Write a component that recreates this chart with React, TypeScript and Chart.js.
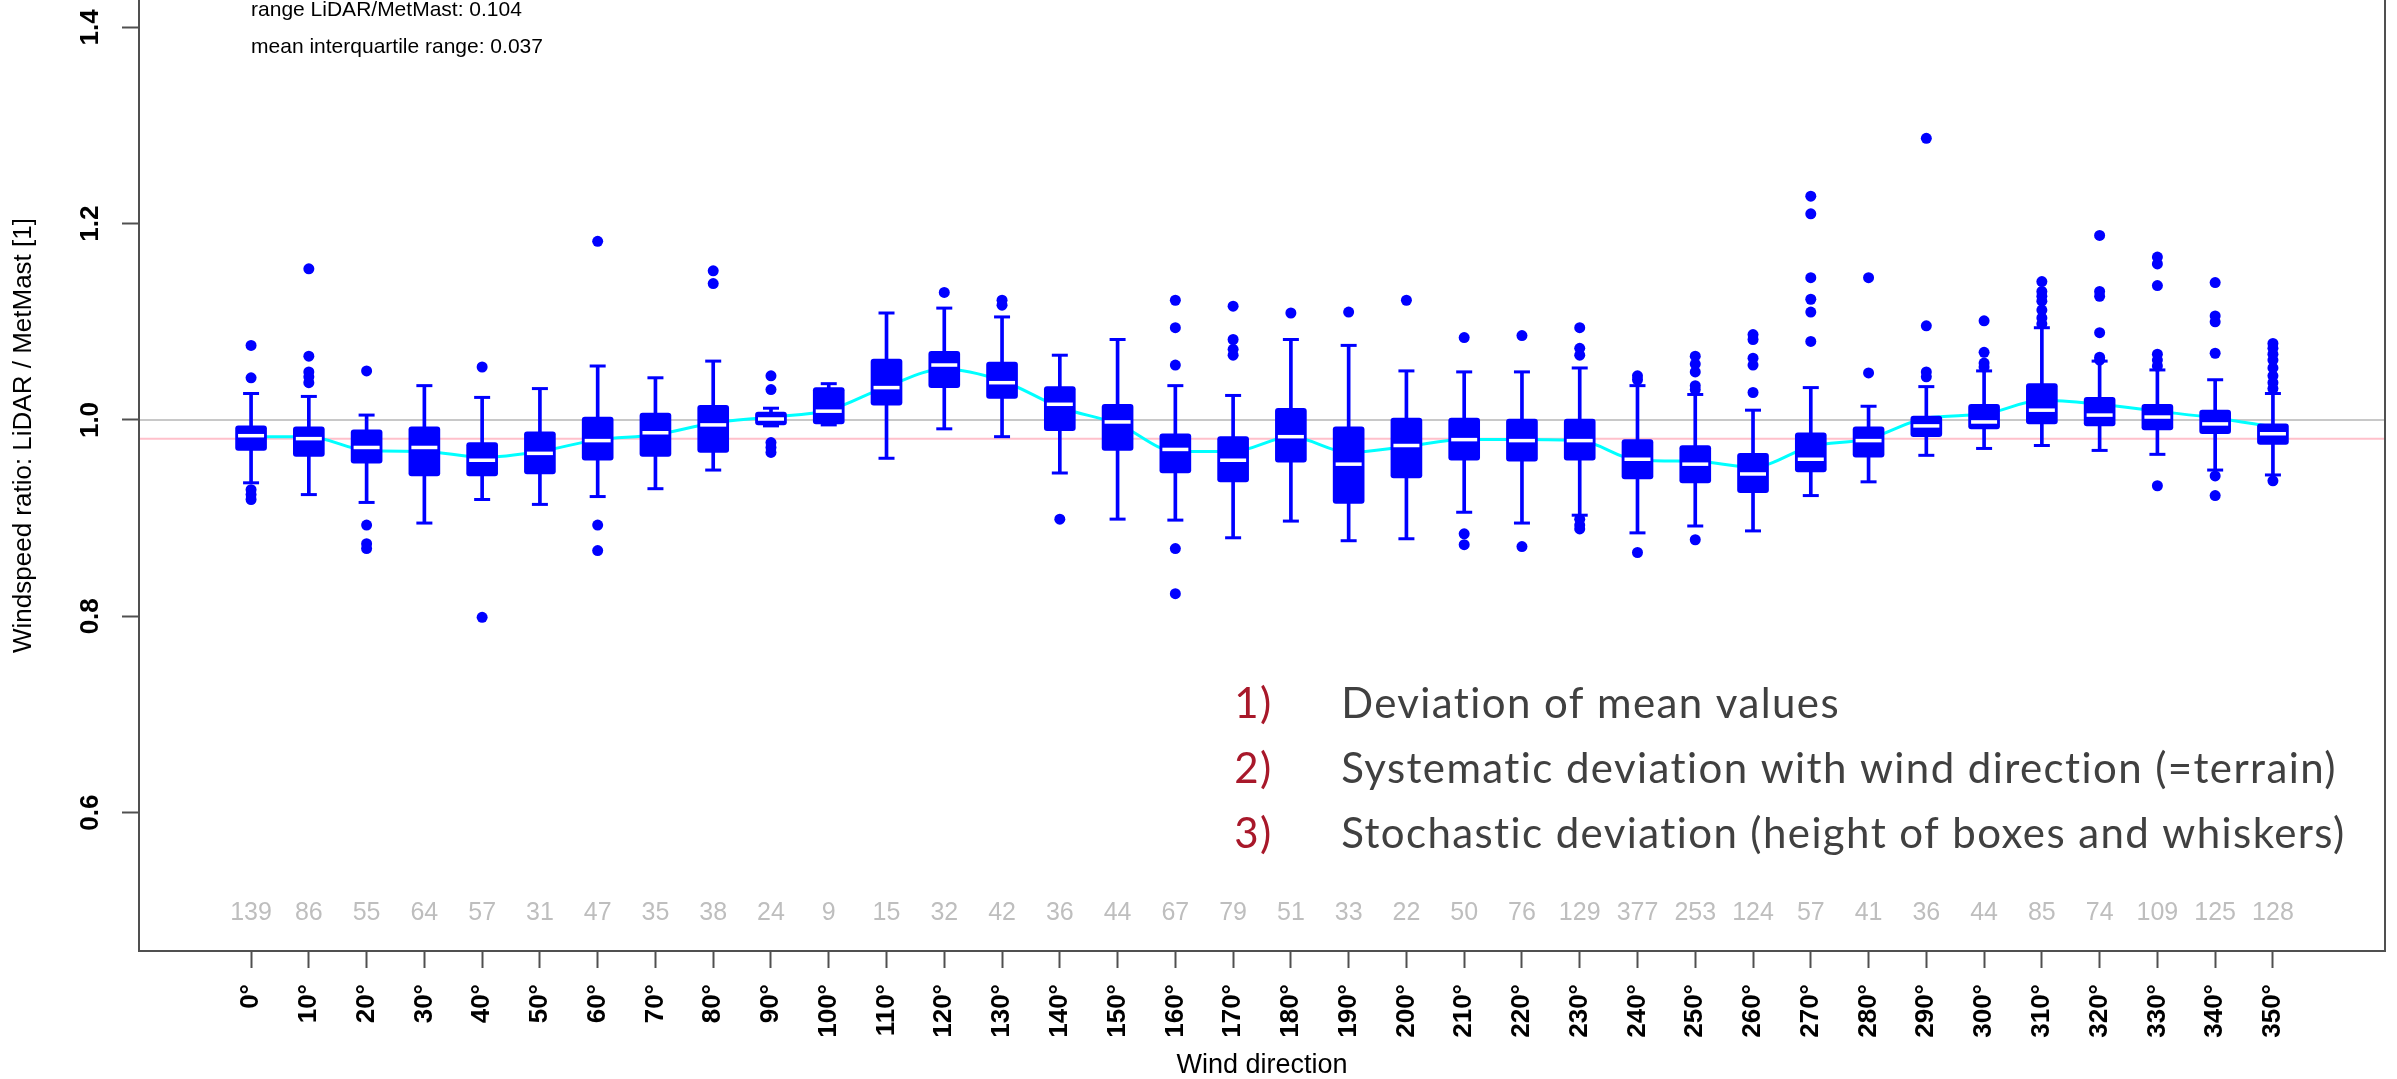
import { useEffect, useRef } from "react";
import Chart from "chart.js/auto";

// ---------------- data ----------------
const directionLabels = [
  "0°", "10°", "20°", "30°", "40°", "50°", "60°", "70°", "80°", "90°",
  "100°", "110°", "120°", "130°", "140°", "150°", "160°", "170°", "180°", "190°",
  "200°", "210°", "220°", "230°", "240°", "250°", "260°", "270°", "280°", "290°",
  "300°", "310°", "320°", "330°", "340°", "350°",
];

const counts = [
  139, 86, 55, 64, 57, 31, 47, 35, 38, 24, 9, 15, 32, 42, 36, 44, 67, 79,
  51, 33, 22, 50, 76, 129, 377, 253, 124, 57, 41, 36, 44, 85, 74, 109, 125, 128,
];

const whiskerLow = [
  0.936, 0.924, 0.916, 0.895, 0.919, 0.914, 0.922, 0.930, 0.949, 0.994, 0.995, 0.961,
  0.991, 0.983, 0.946, 0.899, 0.898, 0.880, 0.897, 0.877, 0.879, 0.906, 0.895, 0.903,
  0.885, 0.892, 0.887, 0.923, 0.937, 0.964, 0.971, 0.974, 0.969, 0.965, 0.949, 0.944,
];
const quartile1 = [
  0.969, 0.963, 0.956, 0.943, 0.943, 0.945, 0.959, 0.963, 0.967, 0.995, 0.996, 1.015,
  1.033, 1.022, 0.989, 0.969, 0.946, 0.937, 0.957, 0.915, 0.941, 0.959, 0.958, 0.959,
  0.940, 0.936, 0.926, 0.947, 0.962, 0.983, 0.991, 0.996, 0.994, 0.990, 0.986, 0.975,
];
const medians = [
  0.984, 0.981, 0.972, 0.972, 0.959, 0.966, 0.979, 0.987, 0.995, 1.001, 1.009, 1.033,
  1.056, 1.038, 1.016, 0.998, 0.970, 0.959, 0.983, 0.955, 0.974, 0.980, 0.979, 0.979,
  0.960, 0.955, 0.945, 0.960, 0.979, 0.994, 0.998, 1.010, 1.005, 1.003, 0.996, 0.986,
];
const quartile3 = [
  0.994, 0.993, 0.990, 0.993, 0.977, 0.988, 1.003, 1.007, 1.015, 1.008, 1.033, 1.062,
  1.070, 1.059, 1.034, 1.016, 0.986, 0.983, 1.012, 0.993, 1.002, 1.002, 1.001, 1.001,
  0.980, 0.974, 0.966, 0.987, 0.993, 1.004, 1.016, 1.037, 1.023, 1.016, 1.010, 0.996,
];
const whiskerHigh = [
  1.027, 1.024, 1.005, 1.035, 1.023, 1.032, 1.055, 1.043, 1.060, 1.012, 1.037, 1.109,
  1.114, 1.105, 1.066, 1.082, 1.035, 1.025, 1.082, 1.076, 1.050, 1.049, 1.049, 1.053,
  1.035, 1.026, 1.010, 1.033, 1.014, 1.034, 1.050, 1.094, 1.060, 1.051, 1.041, 1.027,
];
const outliers: number[][] = [
  [1.076, 1.043, 0.929, 0.924, 0.919],
  [1.154, 1.065, 1.049, 1.044, 1.038],
  [1.050, 0.893, 0.874, 0.869],
  [],
  [1.054, 0.799],
  [],
  [1.182, 0.893, 0.867],
  [],
  [1.152, 1.139],
  [1.045, 1.031, 0.977, 0.972, 0.967],
  [],
  [],
  [1.130],
  [1.122, 1.117],
  [0.899],
  [],
  [1.122, 1.094, 1.056, 0.869, 0.823],
  [1.116, 1.082, 1.072, 1.066],
  [1.109],
  [1.110],
  [1.122],
  [1.084, 0.884, 0.873],
  [1.086, 0.871],
  [1.094, 1.073, 1.066, 0.899, 0.893, 0.889],
  [1.045, 1.041, 0.865],
  [1.065, 1.057, 1.049, 1.035, 1.031, 0.878],
  [1.087, 1.082, 1.063, 1.056, 1.028],
  [1.228, 1.210, 1.145, 1.123, 1.110, 1.080],
  [1.145, 1.048],
  [1.287, 1.096, 1.049, 1.044],
  [1.101, 1.069, 1.058, 1.054],
  [1.141, 1.131, 1.126, 1.121, 1.112, 1.104, 1.098],
  [1.188, 1.131, 1.126, 1.089, 1.064, 1.061],
  [1.166, 1.159, 1.137, 1.067, 1.061, 1.055, 0.933],
  [1.140, 1.106, 1.100, 1.068, 0.943, 0.923],
  [1.078, 1.073, 1.067, 1.061, 1.053, 1.045, 1.038, 1.032, 0.938],
];
const smoothedRatio = [
  0.983, 0.983, 0.969, 0.968, 0.962, 0.968, 0.980, 0.985, 0.997, 1.003, 1.010, 1.034,
  1.052, 1.040, 1.013, 0.996, 0.968, 0.968, 0.983, 0.967, 0.973, 0.980, 0.980, 0.979,
  0.959, 0.958, 0.952, 0.973, 0.981, 1.002, 1.006, 1.020, 1.016, 1.009, 1.002, 0.993,
];
const unityRatio = 1.0;
const meanRatio = 0.981;

const yTickValues = [0.6, 0.8, 1.0, 1.2, 1.4];
const statLines = ["range LiDAR/MetMast: 0.104", "mean interquartile range: 0.037"];
const statLevels = [1.4121, 1.3734];
const countLevel = 0.498;
const noteNumbers = ["1)", "2)", "3)"];
const noteLines = [
  "Deviation of mean values",
  "Systematic deviation with wind direction (=terrain)",
  "Stochastic deviation (height of boxes and whiskers)",
];
const noteLevels = [0.6964, 0.6302, 0.5639];
const noteNumberX = 17.02;
const noteTextX = 18.87;

// ---------------- layout constants ----------------
const X_MIN = -1.94;
const X_MAX = 36.94;
const Y_MIN = 0.459;
const Y_MAX = 1.5094;
const SANS = "'Liberation Sans', Arial, Helvetica, sans-serif";
const NOTE_FONT = "Lato, 'Noto Sans', sans-serif";
const BLUE = "#0000ff";
const AXIS = "#505050";

const idx = directionLabels.map((_, i) => i);

const framePlugin = {
  id: "frame",
  afterDatasetsDraw(chart: any) {
    const { ctx, chartArea: a } = chart;
    ctx.save();
    ctx.strokeStyle = AXIS;
    ctx.lineWidth = 2;
    ctx.strokeRect(a.left, a.top, a.right - a.left, a.bottom - a.top);
    ctx.restore();
  },
};

const textPlugin = {
  id: "texts",
  afterDraw(chart: any) {
    const { ctx } = chart;
    const x = chart.scales.x;
    const y = chart.scales.y;
    ctx.save();
    // sample counts
    ctx.font = `25px ${SANS}`;
    ctx.fillStyle = "#bebebe";
    ctx.textAlign = "center";
    ctx.textBaseline = "middle";
    counts.forEach((c, i) => {
      ctx.fillText(String(c), x.getPixelForValue(i), y.getPixelForValue(countLevel));
    });
    // statistics
    ctx.font = `21px ${SANS}`;
    ctx.fillStyle = "#000";
    ctx.textAlign = "left";
    ctx.textBaseline = "alphabetic";
    statLines.forEach((s, k) => {
      ctx.fillText(s, x.getPixelForValue(0), y.getPixelForValue(statLevels[k]));
    });
    // notes
    ctx.font = `42px ${NOTE_FONT}`;
    (ctx as any).letterSpacing = "1.4px";
    noteLines.forEach((s, k) => {
      const py = y.getPixelForValue(noteLevels[k]);
      ctx.fillStyle = "#a8182a";
      ctx.fillText(noteNumbers[k], x.getPixelForValue(noteNumberX), py);
      ctx.fillStyle = "#404040";
      ctx.fillText(s, x.getPixelForValue(noteTextX), py);
    });
    ctx.restore();
  },
};

export default function App() {
  const ref = useRef<HTMLCanvasElement>(null);
  useEffect(() => {
    if (!ref.current) return;
    const tickFont = { family: SANS, size: 26, weight: "bold" as const };
    const chart = new Chart(ref.current, {
      type: "bar",
      data: {
        datasets: [
          {
            type: "line",
            label: "outliers",
            data: idx.flatMap((i) => outliers[i].map((v) => ({ x: i, y: v }))),
            showLine: false,
            pointStyle: "circle",
            pointRadius: 5.5,
            pointBackgroundColor: BLUE,
            pointBorderWidth: 0,
            order: 0,
          } as any,
          {
            type: "line",
            label: "median",
            data: idx.map((i) => ({ x: i, y: medians[i] })),
            showLine: false,
            pointStyle: "line",
            pointRadius: 13,
            pointBorderColor: "#ffffff",
            pointBorderWidth: 3.5,
            order: 1,
          } as any,
          {
            type: "line",
            label: "caps",
            data: [
              ...idx.map((i) => ({ x: i, y: whiskerLow[i] })),
              ...idx.map((i) => ({ x: i, y: whiskerHigh[i] })),
            ],
            showLine: false,
            pointStyle: "line",
            pointRadius: 8,
            pointBorderColor: BLUE,
            pointBorderWidth: 3,
            order: 2,
          } as any,
          {
            type: "bar",
            label: "box",
            data: idx.map((i) => ({ x: i, y: [quartile1[i], quartile3[i]] })),
            backgroundColor: BLUE,
            barThickness: 31,
            grouped: false,
            borderRadius: 3,
            borderSkipped: false,
            order: 3,
          } as any,
          {
            type: "bar",
            label: "whisker",
            data: idx.map((i) => ({ x: i, y: [whiskerLow[i], whiskerHigh[i]] })),
            backgroundColor: BLUE,
            barThickness: 3,
            grouped: false,
            order: 4,
          } as any,
          {
            type: "line",
            label: "smoothed",
            data: idx.map((i) => ({ x: i, y: smoothedRatio[i] })),
            borderColor: "#00ffff",
            borderWidth: 3,
            pointRadius: 0,
            cubicInterpolationMode: "monotone",
            order: 5,
          } as any,
          {
            type: "line",
            label: "unity",
            data: [
              { x: X_MIN, y: unityRatio },
              { x: X_MAX, y: unityRatio },
            ],
            borderColor: "#c8c8c8",
            borderWidth: 2,
            pointRadius: 0,
            order: 6,
          } as any,
          {
            type: "line",
            label: "mean",
            data: [
              { x: X_MIN, y: meanRatio },
              { x: X_MAX, y: meanRatio },
            ],
            borderColor: "#ffc0cb",
            borderWidth: 2,
            pointRadius: 0,
            order: 7,
          } as any,
        ],
      },
      options: {
        animation: false,
        responsive: false,
        events: [],
        layout: { autoPadding: false, padding: { left: 0, right: 12, top: 0, bottom: 0 } },
        plugins: { legend: { display: false }, tooltip: { enabled: false }, title: { display: false } },
        scales: {
          x: {
            type: "linear",
            min: X_MIN,
            max: X_MAX,
            offset: false,
            afterBuildTicks: (s: any) => {
              s.ticks = idx.map((i) => ({ value: i }));
            },
            afterFit: (s: any) => {
              s.height = 128;
              s.paddingLeft = 0;
              s.paddingRight = 0;
            },
            grid: {
              offset: false,
              drawOnChartArea: false,
              drawTicks: true,
              tickLength: 17,
              tickWidth: 2,
              tickColor: AXIS,
            },
            border: { display: false },
            ticks: {
              autoSkip: false,
              minRotation: 90,
              maxRotation: 90,
              padding: 16,
              color: "#000",
              font: tickFont,
              callback: (_v: any, i: number) => directionLabels[i],
            },
            title: {
              display: true,
              text: "Wind direction",
              color: "#000",
              font: { family: SANS, size: 27, lineHeight: 1 },
              padding: { top: 0, bottom: 0 },
            },
          } as any,
          y: {
            type: "linear",
            min: Y_MIN,
            max: Y_MAX,
            beginAtZero: false,
            afterBuildTicks: (s: any) => {
              s.ticks = yTickValues.map((v) => ({ value: v }));
            },
            afterFit: (s: any) => {
              s.width = 139;
              s.paddingTop = 0;
              s.paddingBottom = 0;
            },
            grid: {
              drawOnChartArea: false,
              drawTicks: true,
              tickLength: 17,
              tickWidth: 2,
              tickColor: AXIS,
            },
            border: { display: false },
            ticks: {
              autoSkip: false,
              minRotation: 90,
              maxRotation: 90,
              crossAlign: "center",
              padding: 13,
              color: "#000",
              font: tickFont,
              callback: (v: any) => Number(v).toFixed(1),
            },
            title: {
              display: true,
              text: "Windspeed ratio: LiDAR / MetMast [1]",
              color: "#000",
              font: { family: SANS, size: 26, lineHeight: 1 },
              padding: { top: 11, bottom: 0 },
            },
          } as any,
        },
      },
      plugins: [framePlugin, textPlugin],
    } as any);
    return () => chart.destroy();
  }, []);

  return (
    <div
      style={{
        position: "fixed",
        left: 0,
        top: -80,
        width: 2397,
        height: 1159,
        background: "#ffffff",
        overflow: "hidden",
      }}
    >
      <canvas ref={ref} width={2397} height={1159} style={{ display: "block" }} />
    </div>
  );
}
